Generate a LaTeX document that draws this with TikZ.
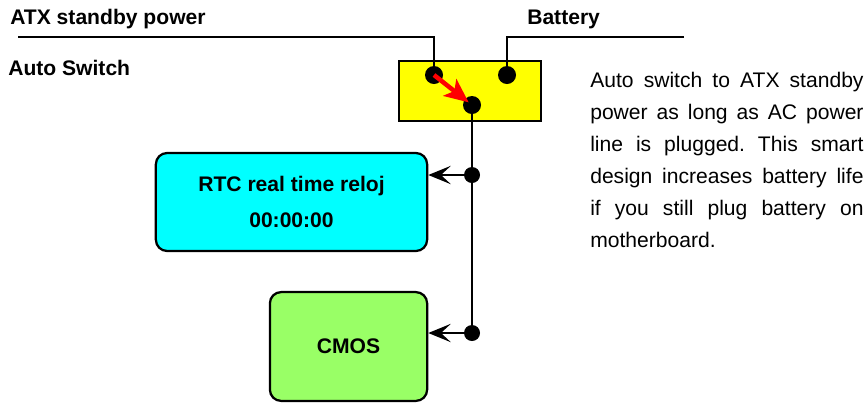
\documentclass[tikz,border=0pt]{standalone}
\usepackage{fontspec}
\setmainfont{Liberation Sans}
\usetikzlibrary{arrows.meta, positioning, calc}
\definecolor{switchfill}{HTML}{FFFF00}
\definecolor{rtcfill}{HTML}{00FFFF}
\definecolor{cmosfill}{HTML}{99FF66}

\begin{document}
\begin{tikzpicture}[x=0.025cm, y=-0.025cm,
    wire/.style={line width=2pt},
    pin/.style={circle, fill=black, inner sep=0pt, minimum size=0.45cm},
    joint/.style={circle, fill=black, inner sep=0pt, minimum size=0.4cm},
    block/.style={draw, line width=1.6pt, rounded corners=8pt, align=center,
        font=\bfseries\fontsize{15}{25}\selectfont},
    heading/.style={inner sep=0pt, font=\bfseries\fontsize{15}{18}\selectfont},
    feed/.style={wire, -{Stealth[length=16pt, width=13pt, inset=7pt]}}]
    \useasboundingbox (0,0) rectangle (868,404);
    % Titles
    \node[heading, anchor=base west] (atx) at (10,24) {ATX standby power};
    \node[heading, anchor=base west] (bat) at (527,24) {Battery};
    \node[heading, anchor=base west] (auto) at (8,75) {Auto Switch};
    % Switch box and contacts
    \node[draw, line width=1.6pt, fill=switchfill, minimum width=3.55cm, minimum height=1.5cm,
        inner sep=0pt] (sw) at (470,91) {};
    \node[pin] (pinatx) at (434,75) {};
    \node[pin] (pinbat) at (507,75) {};
    \node[pin] (pinout) at (472,105) {};
    % Supply lines
    \coordinate (atxend) at (18,37);
    \coordinate (batend) at (684,37);
    \draw[wire] (atxend) -| (pinatx.center);
    \draw[wire] (batend) -| (pinbat.center);
    \draw[red, line width=3.2pt, -{Stealth[length=17pt, width=15pt, inset=4pt]}, shorten >=3pt]
        (pinatx.center) -- (pinout.center);
    % RTC and CMOS blocks
    \node[block, fill=rtcfill, minimum width=6.78cm, minimum height=2.45cm] (rtc) at (291.5,202)
        {RTC real time reloj\\00:00:00};
    \node[block, fill=cmosfill, minimum width=3.93cm, minimum height=2.72cm] (cmos) at (348.5,346.5)
        {CMOS};
    \node[joint] (jrtc) at (472,175) {};
    \node[joint] (jcmos) at (472,333) {};
    \draw[wire] (pinout.center) -- (jcmos.center);
    \draw[feed] (jrtc.center) -- (jrtc -| rtc.east);
    \draw[feed] (jcmos.center) -- (jcmos -| cmos.east);
    % Note
    \node[anchor=north west, inner sep=0pt, text width=6.83cm, align=justify,
        font=\frenchspacing\fontsize{15}{22.8}\selectfont] (note) at (590,72)
        {Auto switch to ATX standby\linebreak power as long as AC power\linebreak
        line is plugged. This smart\linebreak design increases battery life\linebreak
        if you still plug battery on\linebreak motherboard.};
\end{tikzpicture}
\end{document}
